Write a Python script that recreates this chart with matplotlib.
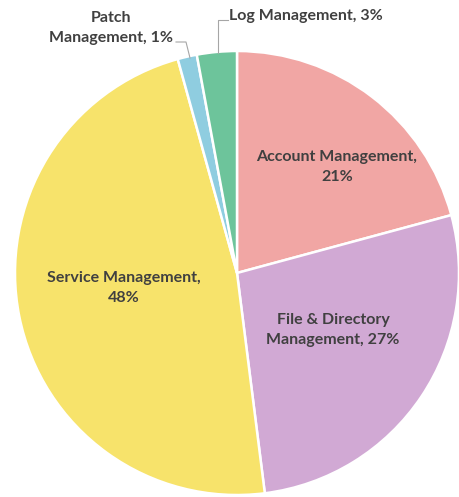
import matplotlib
matplotlib.use("Agg")
import matplotlib.pyplot as plt

categories = ["Account Management", "File & Directory Management", "Service Management",
              "Patch Management", "Log Management"]
values = [20.8, 27.2, 47.7, 1.4, 2.9]
colors = ["#F1A6A4", "#D1A9D4", "#F7E36B", "#8FCDE0", "#6DC49B"]

W, H = 459, 497
cx, cy, R = 237, 273, 222

fig = plt.figure(figsize=(W / 100, H / 100), dpi=100)
ax = fig.add_axes([0, 0, 1, 1])
wedges, _ = ax.pie(values, colors=colors, startangle=90, counterclock=False,
                   radius=1.0, center=(0, 0),
                   wedgeprops=dict(edgecolor="white", linewidth=1.8))
ax.set_xlim(-cx / R, (W - cx) / R)
ax.set_ylim(-(H - cy) / R, cy / R)
ax.set_aspect("equal")
ax.axis("off")

def px(x, y):
    return ((x - cx) / R, (cy - y) / R)

font = dict(family=["Lato", "DejaVu Sans"], fontweight="bold", color="#404040", fontsize=11.5)
pct = [f"{round(v)}%" for v in values]

inside = {
    0: ("Account Management,\n" + pct[0], (337, 167)),
    1: ("File & Directory\nManagement, " + pct[1], (333, 330)),
    2: ("Service Management,\n" + pct[2], (124, 288)),
}
for i, (txt, (x, y)) in inside.items():
    ax.text(*px(x, y), txt, ha="center", va="center", linespacing=1.5, **font)

# Outside labels with leader lines
ax.text(*px(173, 28), "Patch\nManagement, " + pct[3], ha="right", va="center",
        multialignment="center", linespacing=1.5, **font)
ax.plot(*zip(px(176, 42), px(186, 42), px(190, 58)), color="#A6A6A6", lw=0.8)

ax.text(*px(229, 16), "Log Management, " + pct[4], ha="left", va="center", **font)
ax.plot(*zip(px(228, 20), px(218, 20), px(218, 53)), color="#A6A6A6", lw=0.8)

fig.savefig("out.png", dpi=100, facecolor="white")
